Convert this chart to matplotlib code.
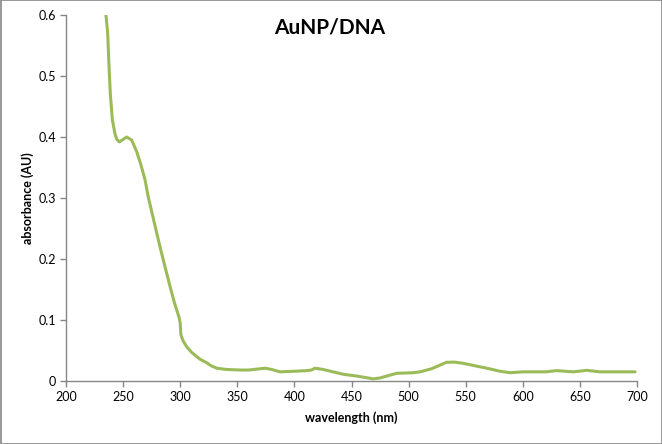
import matplotlib
matplotlib.use("Agg")
import matplotlib.pyplot as plt
from matplotlib.patches import Rectangle

wavelength = [235, 236.5, 237.7, 238.8, 240.6, 242.9, 244.5, 246.7, 250, 253.1, 257.5, 261.9,
              265.5, 269.2, 272, 277, 282.3, 287, 291.1, 295, 299.2, 300.0, 300.6,
              302.5, 305.7, 310, 314.4, 318, 323.2, 327, 332, 340, 352.4, 360, 374.3,
              380, 387.4, 400, 410.7, 415, 418, 425, 442.8, 455, 469, 475, 489.5,
              504, 510, 520, 533.2, 540, 547.8, 558, 568.4, 580, 588.8, 600, 609.2,
              620, 629.7, 644.3, 656, 667.6, 680, 698.3]
absorbance = [0.600, 0.570, 0.515, 0.471, 0.428, 0.405, 0.396, 0.392, 0.396, 0.400, 0.395, 0.376,
              0.355, 0.330, 0.302, 0.262, 0.220, 0.185, 0.155, 0.128, 0.103, 0.095, 0.076,
              0.066, 0.056, 0.047, 0.040, 0.035, 0.030, 0.025, 0.021, 0.019, 0.018, 0.018, 0.021,
              0.019, 0.015, 0.016, 0.017, 0.018, 0.021, 0.019, 0.011, 0.008, 0.0035, 0.005, 0.0126,
              0.0136, 0.015, 0.020, 0.0306, 0.031, 0.029, 0.025, 0.021, 0.016, 0.0136, 0.015, 0.015,
              0.015, 0.017, 0.015, 0.0175, 0.015, 0.015, 0.015]
x_ticks = [200, 250, 300, 350, 400, 450, 500, 550, 600, 650, 700]
y_ticks = [0, 0.1, 0.2, 0.3, 0.4, 0.5, 0.6]
y_tick_labels = ["0", "0.1", "0.2", "0.3", "0.4", "0.5", "0.6"]

plt.rcParams['font.family'] = ['Lato', 'DejaVu Sans']

fig = plt.figure(figsize=(6.62, 4.44), dpi=100)
fig.patches.append(Rectangle((0.0008, 0.001), 0.9985, 0.998, transform=fig.transFigure,
                             fill=False, edgecolor='#868686', linewidth=1.2))
ax = fig.add_axes([66/662, 1-381/444, (637-66)/662, (381-15)/444])
ax.plot(wavelength, absorbance, color='#9BBB59', linewidth=2.2, solid_capstyle='round')
ax.set_xlim(200, 700)
ax.set_ylim(0, 0.6)
ax.set_xticks(x_ticks)
ax.set_yticks(y_ticks)
ax.set_yticklabels(y_tick_labels)
for s in ['top', 'right']:
    ax.spines[s].set_visible(False)
for s in ['left', 'bottom']:
    ax.spines[s].set_color('#868686')
    ax.spines[s].set_linewidth(1.0)
ax.tick_params(axis='both', direction='out', length=4, width=1.0, color='#868686',
               labelsize=9, labelcolor='black', pad=3)
ax.set_xlabel('wavelength (nm)', fontsize=9, fontweight='bold', labelpad=6)
ax.set_ylabel('absorbance (AU)', fontsize=9, fontweight='bold', labelpad=3)
fig.text(330/662, 1-27/444, 'AuNP/DNA', fontsize=15, fontweight='bold', ha='center', va='center')
fig.savefig('out.png', dpi=100)
